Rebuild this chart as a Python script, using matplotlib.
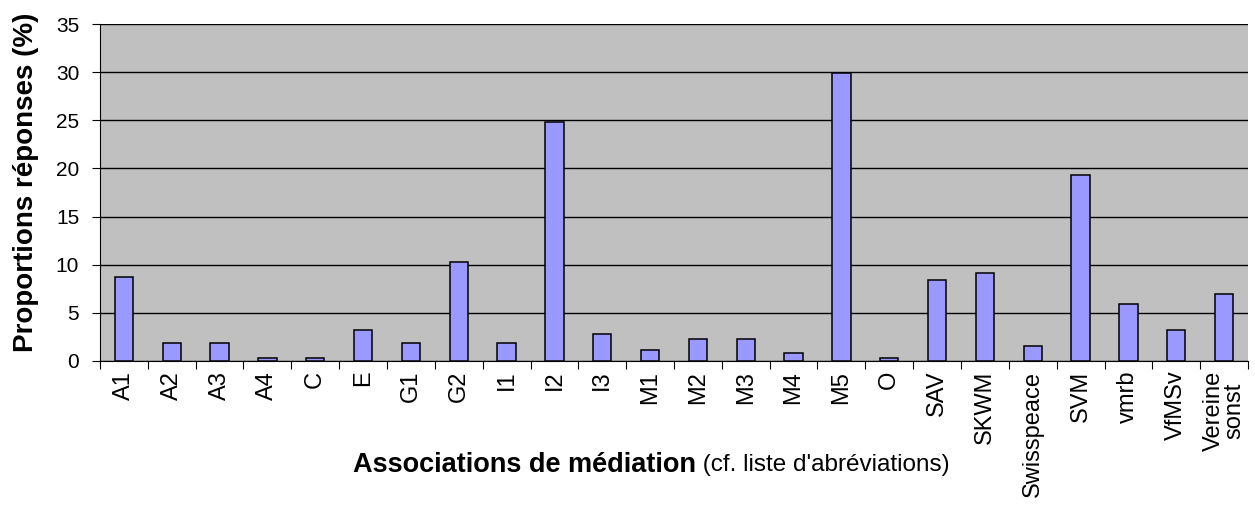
import numpy as np
import matplotlib
matplotlib.use("Agg")
import matplotlib.pyplot as plt

# donnees
categories = ['A1', 'A2', 'A3', 'A4', 'C', 'E', 'G1', 'G2', 'I1', 'I2', 'I3',
              'M1', 'M2', 'M3', 'M4', 'M5', 'O', 'SAV', 'SKWM', 'Swisspeace',
              'SVM', 'vmrb', 'VfMSv', 'Vereine\nsonst']
proportions = [8.7, 1.9, 1.9, 0.35, 0.35, 3.2, 1.9, 10.3, 1.9, 24.8, 2.8,
               1.15, 2.3, 2.3, 0.8, 29.9, 0.35, 8.4, 9.1, 1.55,
               19.3, 5.9, 3.2, 7.0]
y_ticks = [0, 5, 10, 15, 20, 25, 30, 35]

plt.rcParams['font.family'] = ['Liberation Sans', 'DejaVu Sans']

W, H = 1255, 509
fig = plt.figure(figsize=(W / 100, H / 100), dpi=100)
ax = fig.add_axes([100 / W, 1 - 361 / H, 1148 / W, 337 / H])

# fond gris et grille noire
ax.set_facecolor('#C0C0C0')
x = np.arange(len(categories))
ax.bar(x, proportions, width=0.38, color='#9999FF', edgecolor='black',
       linewidth=1.1, zorder=3)

ax.set_xlim(-0.5, len(categories) - 0.5)
ax.set_ylim(0, 35)
ax.set_yticks(y_ticks)
ax.yaxis.grid(True, color='black', linewidth=1, zorder=0)
ax.set_axisbelow(True)

# ticks entre les categories, labels au centre
ax.set_xticks(np.arange(len(categories) + 1) - 0.5)
ax.set_xticklabels([])
ax.set_xticks(x, minor=True)
ax.set_xticklabels(categories, minor=True, rotation=90, fontsize=17,
                   linespacing=0.9, multialignment='center')
ax.tick_params(axis='x', which='minor', length=0, pad=7)
ax.tick_params(axis='x', which='major', length=6, direction='out')
ax.tick_params(axis='y', labelsize=15, length=6, pad=9)

for s in ['top', 'right']:
    ax.spines[s].set_visible(False)

# titre de l'axe y
fig.text(26 / W, 1 - 182 / H, 'Proportions réponses (%)', fontsize=20,
         fontweight='bold', rotation=90, ha='center', va='center')

# titre de l'axe x : partie grasse + partie normale
yl = 1 - 465 / H
t1 = fig.text(0.5, yl, 'Associations de médiation', fontsize=19.5,
              fontweight='bold', ha='right', va='center')
t2 = fig.text(0.5, yl, " (cf. liste d'abréviations)",
              fontsize=17.5, ha='left', va='center')
fig.canvas.draw()
r = fig.canvas.get_renderer()
w1 = t1.get_window_extent(r).width
w2 = t2.get_window_extent(r).width
cx = 651
t1.set_x((cx - (w1 + w2) / 2 + w1) / W)
t2.set_x((cx - (w1 + w2) / 2 + w1) / W)

fig.savefig('out.png', dpi=100)
